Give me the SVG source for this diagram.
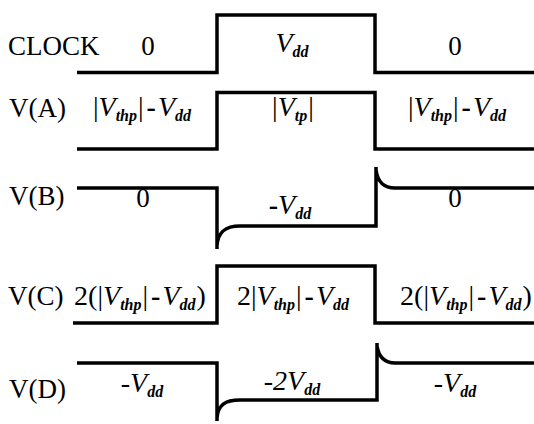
<svg xmlns="http://www.w3.org/2000/svg" width="534" height="424" viewBox="0 0 534 424">
<style>
text{font-family:'Liberation Serif','Times New Roman',Times,'DejaVu Serif',serif;font-size:27px;fill:#000}
.f{font-size:28px}
.i{font-style:italic}
.s{font-style:italic;font-size:16px;font-weight:bold}
.m{font-weight:bold}
.w{fill:none;stroke:#000;stroke-width:3.5;stroke-linejoin:miter}
</style>
<rect width="534" height="424" fill="#fff"/>
<g id="connectors">
<path class="w" d="M77,72.5 H217 V15 H375 V72.5 H534"/>
<path class="w" d="M77,149 H217 V92.5 H375 V149 H534"/>
<path class="w" d="M77,188 H217 V249 M217,246 C218,232 225,226 240,226 H376 V167 M376,170 C378,183 384,188 395,188 H534"/>
<path class="w" d="M73,323 H217 V266 H375 V323 H534"/>
<path class="w" d="M77,363 H217 V421 M217,418 C218,405 225,400 240,400 H377 V343 M377,346 C379,358 385,363 395,363 H534"/>
</g>
<g id="clock">
<text x="8" y="55">CLOCK</text>
<text x="148" y="55" text-anchor="middle">0</text>
<text x="292" y="52" text-anchor="middle" class="f"><tspan class="i">V</tspan><tspan class="s" dy="5">dd</tspan></text>
<text x="455" y="55" text-anchor="middle">0</text>
</g>
<g id="va">
<text x="9" y="117">V(A)</text>
<text x="142" y="116" text-anchor="middle" class="f">|<tspan class="i">V</tspan><tspan class="s" dy="5">thp</tspan><tspan dy="-5" dx="1">|</tspan><tspan class="m" dx="3">-</tspan><tspan class="i" dx="2">V</tspan><tspan class="s" dy="5">dd</tspan></text>
<text x="293" y="116" text-anchor="middle" class="f">|<tspan class="i">V</tspan><tspan class="s" dy="5">tp</tspan><tspan dy="-5" dx="1">|</tspan></text>
<text x="457" y="116" text-anchor="middle" class="f">|<tspan class="i">V</tspan><tspan class="s" dy="5">thp</tspan><tspan dy="-5" dx="1">|</tspan><tspan class="m" dx="3">-</tspan><tspan class="i" dx="2">V</tspan><tspan class="s" dy="5">dd</tspan></text>
</g>
<g id="vb">
<text x="9" y="205">V(B)</text>
<text x="143" y="207" text-anchor="middle">0</text>
<text x="290" y="214" text-anchor="middle" class="f"><tspan class="m">-</tspan><tspan class="i">V</tspan><tspan class="s" dy="5">dd</tspan></text>
<text x="455" y="207" text-anchor="middle">0</text>
</g>
<g id="vc">
<text x="8" y="305">V(C)</text>
<text x="140" y="305" text-anchor="middle" class="f">2(|<tspan class="i">V</tspan><tspan class="s" dy="5">thp</tspan><tspan dy="-5" dx="1">|</tspan><tspan class="m" dx="3">-</tspan><tspan class="i" dx="2">V</tspan><tspan class="s" dy="5">dd</tspan><tspan dy="-5" dx="1">)</tspan></text>
<text x="293" y="305" text-anchor="middle" class="f">2|<tspan class="i">V</tspan><tspan class="s" dy="5">thp</tspan><tspan dy="-5" dx="1">|</tspan><tspan class="m" dx="3">-</tspan><tspan class="i" dx="2">V</tspan><tspan class="s" dy="5">dd</tspan></text>
<text x="466" y="305" text-anchor="middle" class="f">2(|<tspan class="i">V</tspan><tspan class="s" dy="5">thp</tspan><tspan dy="-5" dx="1">|</tspan><tspan class="m" dx="3">-</tspan><tspan class="i" dx="2">V</tspan><tspan class="s" dy="5">dd</tspan><tspan dy="-5" dx="1">)</tspan></text>
</g>
<g id="vd">
<text x="9" y="398">V(D)</text>
<text x="142" y="392" text-anchor="middle" class="f"><tspan class="i">-V</tspan><tspan class="s" dy="5">dd</tspan></text>
<text x="292" y="390" text-anchor="middle" class="f"><tspan class="i">-2V</tspan><tspan class="s" dy="5">dd</tspan></text>
<text x="455" y="392" text-anchor="middle" class="f"><tspan class="i">-V</tspan><tspan class="s" dy="5">dd</tspan></text>
</g>
</svg>
